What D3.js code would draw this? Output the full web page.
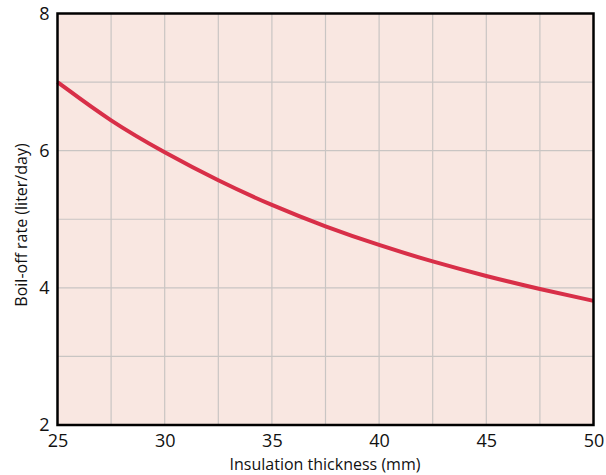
<!DOCTYPE html>
<html><head><meta charset="utf-8">
<script src="https://cdn.jsdelivr.net/npm/d3@7"></script>
<style>body{margin:0;background:#fff}svg{display:block}</style>
</head><body><svg id="c" width="606" height="475"></svg>
<script>
const thickness = [25, 27.5, 30, 32.5, 35, 37.5, 40, 42.5, 45, 47.5, 50];
const boilOff   = [7.0, 6.42, 5.97, 5.56, 5.20, 4.89, 4.62, 4.38, 4.17, 3.98, 3.81];
const xTicks = [25, 30, 35, 40, 45, 50];
const yTicks = [2, 4, 6, 8];
const xGrid = [27.5, 30, 32.5, 35, 37.5, 40, 42.5, 45, 47.5];
const yGrid = [3, 4, 5, 6, 7];
const xLabel = "Insulation thickness (mm)";
const yLabel = "Boil-off rate (liter/day)";

const svg = d3.select("#c");
const L = 57.5, R = 593.5, T = 13.5, B = 425;
const x = d3.scaleLinear().domain([25, 50]).range([L, R]);
const y = d3.scaleLinear().domain([2, 8]).range([B, T]);
const font = "'Open Sans', 'Liberation Sans', Arial, sans-serif";

svg.append("rect").attr("x", L).attr("y", T).attr("width", R - L).attr("height", B - T).attr("fill", "#f9e7e1");

svg.append("g").selectAll("line").data(xGrid).join("line")
  .attr("x1", d => x(d)).attr("x2", d => x(d)).attr("y1", T).attr("y2", B)
  .attr("stroke", "#c9c5c3").attr("stroke-width", 1.2);
svg.append("g").selectAll("line").data(yGrid).join("line")
  .attr("y1", d => y(d)).attr("y2", d => y(d)).attr("x1", L).attr("x2", R)
  .attr("stroke", "#c9c5c3").attr("stroke-width", 1.2);

const line = d3.line().x((d, i) => x(thickness[i])).y(d => y(d)).curve(d3.curveBasis);
svg.append("path").datum(boilOff).attr("d", line)
  .attr("fill", "none").attr("stroke", "#d82f48").attr("stroke-width", 4).attr("stroke-linecap", "butt");

svg.append("rect").attr("x", L).attr("y", T).attr("width", R - L).attr("height", B - T)
  .attr("fill", "none").attr("stroke", "#000").attr("stroke-width", 2.5);

const xAxis = svg.append("g").attr("transform", `translate(0,${B})`)
  .call(d3.axisBottom(x).tickValues(xTicks).tickSize(0).tickPadding(9).tickFormat(d3.format("d")));
xAxis.select(".domain").remove();
xAxis.selectAll("text").attr("font-family", font).attr("font-size", 18).attr("fill", "#111");

const yAxis = svg.append("g").attr("transform", `translate(${L},0)`)
  .call(d3.axisLeft(y).tickValues(yTicks).tickSize(0).tickPadding(8).tickFormat(d3.format("d")));
yAxis.select(".domain").remove();
yAxis.selectAll("text").attr("font-family", font).attr("font-size", 18).attr("fill", "#111");

svg.append("text").attr("x", 325).attr("y", 470).attr("text-anchor", "middle")
  .attr("font-family", font).attr("font-size", 16).attr("fill", "#111").text(xLabel);
svg.append("text").attr("transform", "translate(27,225) rotate(-90)").attr("text-anchor", "middle")
  .attr("font-family", font).attr("font-size", 16).attr("fill", "#111").text(yLabel);
</script></body></html>
